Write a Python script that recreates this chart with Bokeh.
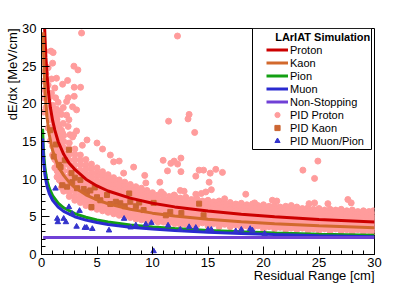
import math
from bokeh.plotting import figure
from bokeh.models import (ColumnDataSource, Legend, LegendItem, Title, SingleIntervalTicker,
                          BoxAnnotation)
from bokeh.embed import file_html
from bokeh.resources import INLINE

# ---------------- data ----------------
proton_r = [0.27, 0.29, 0.35, 0.4, 0.5, 0.6, 0.7, 0.8, 1.0, 1.2, 1.5, 2.0, 2.5, 3.0, 4.0, 5.0, 6.0, 8.0, 10.0, 12.0, 15.0, 18.0, 21.0, 25.0, 30.0]
proton_e = [30.7, 29.8, 27.6, 26.1, 23.8, 22.0, 20.6, 19.5, 17.8, 16.5, 15.0, 13.3, 12.1, 11.3, 9.99, 9.10, 8.43, 7.48, 6.81, 6.32, 5.76, 5.33, 5.00, 4.66, 4.31]

kaon_r = [0.15, 0.2, 0.25, 0.3, 0.4, 0.5, 0.7, 1.0, 1.5, 2.0, 2.5, 3.0, 4.0, 5.0, 6.0, 8.0, 10.0, 12.0, 15.0, 18.0, 21.0, 25.0, 30.0]
kaon_e = [29.5, 26.3, 24.0, 22.3, 19.9, 18.2, 15.9, 13.8, 11.7, 10.5, 9.57, 8.89, 7.92, 7.25, 6.74, 6.01, 5.49, 5.11, 4.67, 4.34, 4.08, 3.81, 3.54]

pion_r = [0.1, 0.15, 0.2, 0.3, 0.4, 0.5, 0.7, 1.0, 1.5, 2.0, 3.0, 4.0, 5.0, 6.0, 8.0, 10.0, 12.0, 15.0, 18.0, 21.0, 25.0, 30.0]
pion_e = [16.7, 14.6, 13.3, 11.6, 10.6, 9.80, 8.78, 7.80, 6.82, 6.20, 5.43, 4.94, 4.59, 4.32, 3.93, 3.65, 3.44, 3.19, 3.01, 2.86, 2.70, 2.54]

muon_r = [0.1, 0.15, 0.2, 0.3, 0.4, 0.5, 0.7, 1.0, 1.5, 2.0, 3.0, 4.0, 5.0, 6.0, 8.0, 10.0, 12.0, 15.0, 18.0, 21.0, 25.0, 30.0]
muon_e = [15.4, 13.5, 12.3, 10.7, 9.78, 9.05, 8.10, 7.20, 6.30, 5.72, 5.01, 4.56, 4.24, 3.99, 3.63, 3.37, 3.18, 2.94, 2.78, 2.64, 2.49, 2.34]

nonstop_r = [0.15, 30.0]
nonstop_e = [2.27, 2.27]

# PID Proton: dense band, one column of dE/dx values per residual range
pid_proton_cols = [
    (0.2, [25.5, 23.0, 20.8, 18.9]),
    (0.3, [27.0, 24.3, 21.9]),
    (0.4, [24.0, 21.5, 19.5]),
    (0.6, [22.5, 20.5, 18.6, 16.8]),
    (0.8, [21.0, 19.4, 17.9, 16.5, 15.1]),
    (1.0, [19.8, 18.4, 17.0, 15.7, 14.4, 13.2]),
    (1.2, [18.8, 17.5, 16.2, 15.0, 13.8, 12.6, 11.5]),
    (1.4, [17.9, 16.7, 15.5, 14.4, 13.3, 12.2, 11.1, 10.3]),
    (1.6, [17.2, 16.0, 14.9, 13.8, 12.8, 11.8, 10.8, 9.9]),
    (1.8, [16.5, 15.4, 14.4, 13.4, 12.4, 11.4, 10.5, 9.6, 8.9]),
    (2.0, [15.8, 15.0, 14.2, 13.4, 12.6, 11.9, 11.1, 10.4, 9.7, 9.0, 8.4]),
    (2.5, [14.8, 14.0, 13.3, 12.5, 11.8, 11.1, 10.4, 9.7, 9.0, 8.3, 7.7]),
    (3.0, [14.0, 13.3, 12.6, 11.9, 11.2, 10.5, 9.8, 9.1, 8.5, 7.8, 7.2]),
    (3.5, [13.2, 12.5, 11.9, 11.2, 10.6, 9.9, 9.3, 8.7, 8.1, 7.5, 6.9]),
    (4.0, [12.6, 11.9, 11.3, 10.7, 10.1, 9.5, 8.9, 8.3, 7.7, 7.1, 6.5]),
    (4.5, [12.0, 11.4, 10.8, 10.2, 9.6, 9.0, 8.4, 7.9, 7.3, 6.8, 6.2]),
    (5.0, [11.5, 10.9, 10.4, 9.8, 9.2, 8.7, 8.1, 7.6, 7.0, 6.5, 6.0]),
    (5.5, [11.0, 10.5, 9.9, 9.4, 8.9, 8.3, 7.8, 7.3, 6.8, 6.3, 5.8]),
    (6.0, [10.6, 10.1, 9.6, 9.1, 8.6, 8.0, 7.5, 7.0, 6.5, 6.0, 5.6]),
    (6.5, [10.2, 9.7, 9.2, 8.7, 8.2, 7.7, 7.2, 6.8, 6.3, 5.8, 5.4]),
    (7.0, [9.9, 9.4, 8.9, 8.4, 7.9, 7.5, 7.0, 6.5, 6.1, 5.6, 5.2]),
    (7.5, [9.6, 9.1, 8.6, 8.2, 7.7, 7.2, 6.8, 6.3, 5.9, 5.4, 5.0]),
    (8.0, [9.3, 8.8, 8.4, 7.9, 7.5, 7.0, 6.6, 6.1, 5.7, 5.3, 4.9]),
    (8.5, [9.0, 8.6, 8.1, 7.7, 7.2, 6.8, 6.4, 5.9, 5.5, 5.1, 4.7]),
    (9.0, [8.8, 8.3, 7.9, 7.4, 7.0, 6.6, 6.2, 5.8, 5.4, 5.0, 4.6]),
    (9.5, [8.5, 8.1, 7.7, 7.2, 6.8, 6.4, 6.0, 5.6, 5.2, 4.8, 4.4]),
    (10.0, [8.2, 7.6, 7.1, 6.5, 6.0, 5.5, 5.0, 4.5]),
    (10.5, [7.9, 7.3, 6.8, 6.3, 5.8, 5.2, 4.7, 4.3]),
    (11.0, [8.0, 7.4, 6.9, 6.3, 5.8, 5.3, 4.8, 4.3]),
    (11.5, [7.7, 7.2, 6.6, 6.1, 5.6, 5.1, 4.6, 4.2]),
    (12.0, [7.8, 7.2, 6.7, 6.1, 5.6, 5.1, 4.6, 4.1]),
    (12.5, [7.5, 7.0, 6.4, 5.9, 5.4, 4.9, 4.4, 4.0]),
    (13.0, [7.6, 7.0, 6.5, 6.0, 5.5, 5.0, 4.5, 4.0]),
    (13.5, [7.3, 6.8, 6.3, 5.8, 5.3, 4.8, 4.3, 3.9]),
    (14.0, [7.4, 6.9, 6.4, 5.9, 5.4, 4.9, 4.4, 3.9]),
    (14.5, [7.1, 6.6, 6.1, 5.7, 5.2, 4.7, 4.2]),
    (15.0, [7.2, 6.7, 6.2, 5.7, 5.2, 4.8, 4.3, 3.8]),
    (15.5, [7.0, 6.5, 6.0, 5.6, 5.1, 4.6, 4.1]),
    (16.0, [7.1, 6.6, 6.1, 5.6, 5.1, 4.7, 4.2, 3.7]),
    (16.5, [6.8, 6.3, 5.9, 5.4, 5.0, 4.5, 4.0]),
    (17.0, [6.9, 6.4, 6.0, 5.5, 5.0, 4.6, 4.1, 3.7]),
    (17.5, [6.7, 6.2, 5.8, 5.3, 4.9, 4.4, 3.9]),
    (18.0, [6.8, 6.3, 5.8, 5.4, 4.9, 4.5, 4.0, 3.6]),
    (18.5, [6.6, 6.1, 5.7, 5.2, 4.8, 4.3, 3.8]),
    (19.0, [6.7, 6.2, 5.7, 5.3, 4.8, 4.4, 3.9, 3.5]),
    (19.5, [6.5, 6.0, 5.6, 5.1, 4.7, 4.2, 3.8]),
    (20.0, [6.6, 6.1, 5.6, 5.2, 4.7, 4.3, 3.8, 3.4]),
    (20.5, [6.4, 5.9, 5.5, 5.0, 4.6, 4.1, 3.7]),
    (21.0, [6.5, 6.0, 5.5, 5.1, 4.6, 4.2, 3.7, 3.4]),
    (21.5, [6.3, 5.8, 5.4, 4.9, 4.5, 4.0, 3.6]),
    (22.0, [6.4, 5.9, 5.4, 5.0, 4.5, 4.1, 3.7, 3.3]),
    (22.5, [6.2, 5.7, 5.3, 4.8, 4.4, 4.0, 3.5]),
    (23.0, [6.3, 5.8, 5.3, 4.9, 4.5, 4.0, 3.6, 3.3]),
    (23.5, [6.1, 5.6, 5.2, 4.8, 4.3, 3.9, 3.5]),
    (24.0, [6.2, 5.7, 5.3, 4.8, 4.4, 4.0, 3.6, 3.2]),
    (24.5, [6.0, 5.6, 5.1, 4.7, 4.3, 3.9, 3.4]),
    (25.0, [6.1, 5.6, 5.2, 4.8, 4.3, 3.9, 3.5, 3.2]),
    (25.5, [5.9, 5.5, 5.1, 4.6, 4.2, 3.8, 3.4]),
    (26.0, [6.0, 5.5, 5.1, 4.7, 4.3, 3.9, 3.5, 3.1]),
    (26.5, [5.9, 5.4, 5.0, 4.6, 4.2, 3.8, 3.4]),
    (27.0, [6.0, 5.5, 5.0, 4.6, 4.2, 3.8, 3.4, 3.1]),
    (27.5, [5.8, 5.4, 4.9, 4.5, 4.1, 3.7, 3.3]),
    (28.0, [5.9, 5.4, 5.0, 4.6, 4.2, 3.8, 3.4, 3.0]),
    (28.5, [5.7, 5.3, 4.9, 4.5, 4.1, 3.7, 3.3]),
    (29.0, [5.8, 5.4, 4.9, 4.5, 4.1, 3.7, 3.3, 3.0]),
    (29.5, [5.7, 5.2, 4.8, 4.4, 4.0, 3.6, 3.2]),
    (29.9, [5.8, 5.3, 4.9, 4.5, 4.1, 3.7, 3.3, 3.0]),
]

# PID Proton: scattered points off the band
pid_proton_extra_r = [0.06, 0.85, 1.05, 3.61, 1.0, 2.92, 3.28, 0.6, 0.9, 1.35, 2.35, 1.9, 2.95, 3.52, 1.2, 0.9, 1.27, 2.4, 2.95, 2.26,
                      1.5, 3.16, 2.8, 1.96, 1.35, 1.66, 1.81, 1.42, 2.26, 2.47, 1.96, 2.4, 3.16, 2.56, 2.8, 1.9, 1.66, 1.05,
                      3.68, 4.1, 5.0, 2.9, 6.5, 7.4, 5.5, 6.2, 7.0, 8.3, 11.65,
                      12.25, 13.3, 13.2, 11.45, 13.8, 10.96, 11.95, 12.56, 12.26, 9.3, 9.4, 11.35, 12.56, 13.9, 14.2, 14.6,
                      15.2, 15.7, 16.3, 10.66, 15.1, 10.8, 12.5, 12.85, 15.3, 14.8, 14.4, 13.9, 18.4, 11.95, 16.5, 8.0, 8.3,
                      24.9, 23.55, 24.6, 20.8, 21.2, 27.6, 24.1, 24.6, 25.8, 27.9, 22.5, 19.2]
pid_proton_extra_e = [27.6, 27.0, 26.8, 29.4, 25.4, 25.0, 24.5, 24.8, 23.3, 23.4, 23.1, 22.6, 22.2, 22.2, 22.1, 21.4, 20.8, 20.8, 21.0, 20.3,
                      20.2, 19.2, 19.6, 19.5, 19.3, 19.0, 18.6, 18.5, 18.5, 17.9, 17.4, 17.0, 16.4, 15.9, 15.6, 16.1, 16.5, 18.8,
                      14.5, 15.2, 14.8, 15.9, 12.3, 10.8, 14.0, 13.2, 12.4, 11.6, 12.1,
                      29.0, 18.6, 18.0, 17.7, 16.2, 12.5, 12.4, 12.8, 12.0, 10.5, 9.5, 11.1, 11.0, 10.4, 11.2, 11.2,
                      10.8, 11.3, 10.9, 9.6, 9.6, 8.3, 8.5, 8.4, 8.6, 8.3, 8.1, 8.0, 8.0, 7.9, 7.4, 8.8, 8.5,
                      12.4, 11.2, 10.1, 7.2, 7.1, 7.3, 6.75, 6.85, 6.75, 6.85, 6.5, 6.85]

pid_kaon_r = [0.8, 1.1, 1.3, 1.57, 1.72, 1.87, 2.1, 2.3, 2.47, 2.7, 2.77, 3.0, 3.2, 3.5, 3.8, 4.1, 4.4, 4.5, 4.8, 5.0,
              5.3, 5.9, 6.2, 6.7, 7.1, 7.5, 7.9, 8.0, 8.5, 8.8, 9.2, 10.1, 11.2, 11.6, 12.6, 14.2, 14.6]
pid_kaon_e = [16.5, 13.0, 14.6, 11.9, 11.6, 9.2, 12.5, 9.0, 13.9, 10.8, 9.6, 10.2, 8.8, 9.9, 8.7, 8.3, 8.5, 6.3, 8.9, 7.6,
              7.2, 7.9, 6.7, 7.0, 6.8, 6.4, 8.1, 7.0, 6.4, 6.9, 5.9, 6.85, 5.2, 5.65, 5.5, 6.75, 5.2]

pid_mupi_r = [1.26, 1.42, 1.47, 2.0, 2.2, 2.47, 2.77, 3.16, 3.43, 3.9, 4.07, 4.58, 6.08, 7.44, 8.04, 8.5, 9.4, 9.9, 10.1,
              11.4, 12.5, 13.3, 13.9, 15.0, 15.3, 17.5, 18.0, 18.8, 19.0, 20.1]
pid_mupi_e = [8.76, 4.75, 4.3, 4.75, 4.3, 6.3, 5.4, 3.7, 5.8, 3.55, 3.55, 3.4, 3.2, 4.75, 3.6, 3.87, 4.0, 4.2, 0.45,
              3.85, 3.3, 3.65, 3.55, 3.3, 3.3, 3.1, 3.3, 3.4, 3.2, 2.75]

# ---------------- figure ----------------
p = figure(width=415, height=283, x_range=(0, 30), y_range=(0, 30),
           output_backend="svg", toolbar_location=None,
           min_border_left=41, min_border_right=41, min_border_top=28, min_border_bottom=29,
           background_fill_color="white", border_fill_color="white")
p.xgrid.visible = False
p.ygrid.visible = False
p.outline_line_color = "black"
p.outline_line_width = 1

for ax in (p.xaxis[0], p.yaxis[0]):
    ax.ticker = SingleIntervalTicker(interval=5, num_minor_ticks=5)
    ax.major_tick_in = 8
    ax.major_tick_out = 0
    ax.minor_tick_in = 4
    ax.minor_tick_out = 0
    ax.axis_line_color = "black"
    ax.major_tick_line_color = "black"
    ax.minor_tick_line_color = "black"
    ax.major_label_text_font = "Liberation Sans"
    ax.major_label_text_font_size = "13px"
    ax.major_label_text_color = "black"
p.xaxis.major_label_standoff = 3
p.yaxis.major_label_standoff = 5

band_r = [c[0] for c in pid_proton_cols for _ in c[1]]
band_e = [e for c in pid_proton_cols for e in c[1]]
src_p = ColumnDataSource(dict(r=band_r + pid_proton_extra_r, e=band_e + pid_proton_extra_e))

r_pp = p.scatter("r", "e", source=src_p, marker="circle", size=6,
                 fill_color="#ff9c9c", line_color="#ff9c9c")
r_pk = p.scatter(pid_kaon_r, pid_kaon_e, marker="square", size=5,
                 fill_color="#cc6633", line_color="#cc6633")

r_pro = p.line(proton_r, proton_e, line_color="#cc0000", line_width=3)
r_kao = p.line(kaon_r, kaon_e, line_color="#d2692d", line_width=3)
r_pio = p.line(pion_r, pion_e, line_color="#13a013", line_width=3)
r_muo = p.line(muon_r, muon_e, line_color="#2a2ad0", line_width=3)
r_non = p.line(nonstop_r, nonstop_e, line_color="#7040d6", line_width=3)

r_pm = p.scatter(pid_mupi_r, pid_mupi_e, marker="triangle", size=5.5,
                 fill_color="#3333cc", line_color="#3333cc")

# legend frame (white box with black border) behind the legend entries
p.add_layout(BoxAnnotation(left=211, right=330, top=226, bottom=105,
                           left_units="screen", right_units="screen",
                           top_units="screen", bottom_units="screen",
                           fill_color="white", fill_alpha=1.0,
                           line_color="black", line_width=1, line_alpha=1.0))

legend = Legend(items=[
    LegendItem(label="Proton", renderers=[r_pro]),
    LegendItem(label="Kaon", renderers=[r_kao]),
    LegendItem(label="Pion", renderers=[r_pio]),
    LegendItem(label="Muon", renderers=[r_muo]),
    LegendItem(label="Non-Stopping", renderers=[r_non]),
    LegendItem(label="PID Proton", renderers=[r_pp]),
    LegendItem(label="PID Kaon", renderers=[r_pk]),
    LegendItem(label="PID Muon/Pion", renderers=[r_pm]),
], location=(223, 105), title="\u00a0\u00a0\u00a0LArIAT Simulation",
    title_text_font="Liberation Sans", title_text_font_size="11px", title_text_font_style="bold",
    title_text_color="black", title_standoff=0,
    label_text_font="Liberation Sans", label_text_font_size="11px", label_text_color="black",
    glyph_width=22, glyph_height=13, label_height=13, label_width=20, label_standoff=2,
    spacing=0, padding=2, margin=0,
    border_line_alpha=0.0, background_fill_alpha=0.0)
p.add_layout(legend, "center")

p.add_layout(Title(text="Residual Range [cm]", align="right", standoff=-7,
                   text_font="Liberation Sans", text_font_size="13px", text_font_style="normal",
                   text_color="black"), "below")
p.add_layout(Title(text="dE/dx [MeV/cm]", align="right", standoff=0,
                   text_font="Liberation Sans", text_font_size="13px", text_font_style="normal",
                   text_color="black"), "left")

open("out.html", "w").write(file_html(p, INLINE))
